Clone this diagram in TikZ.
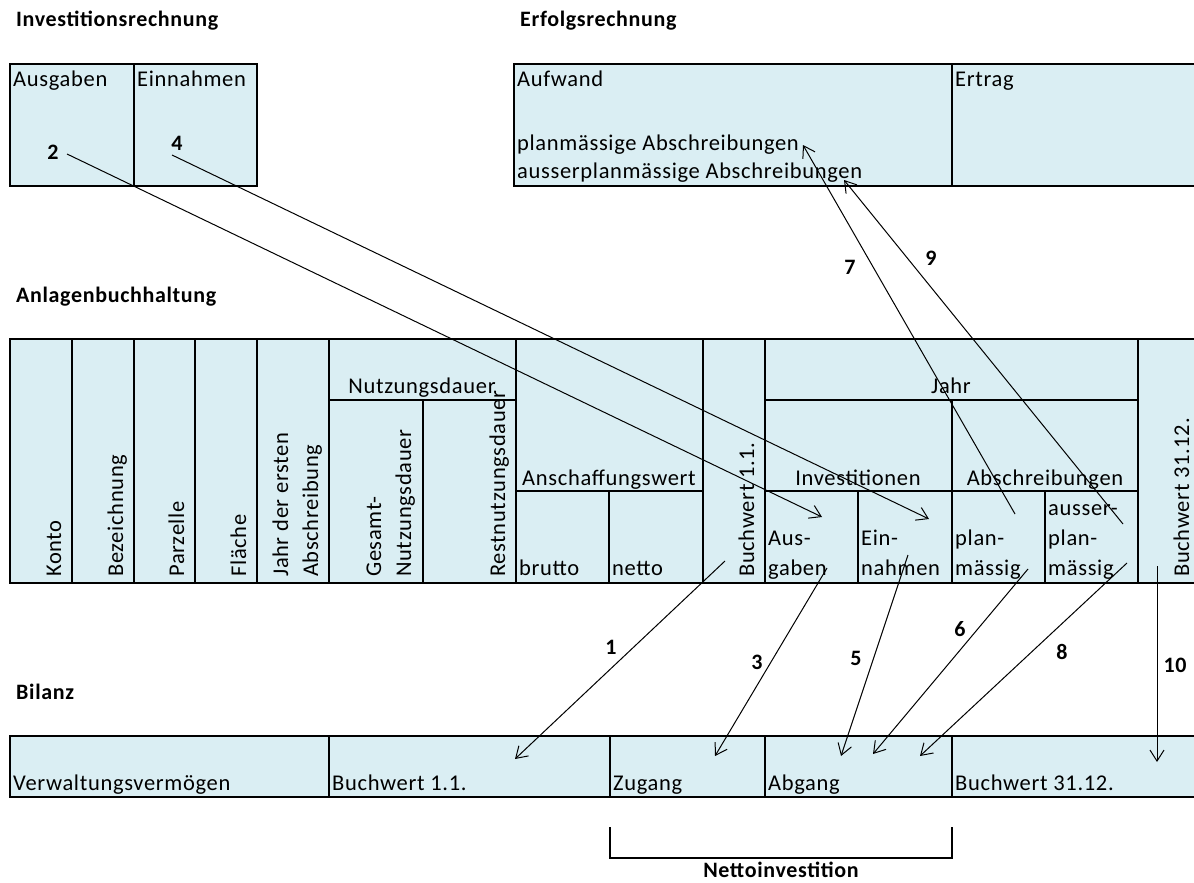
\documentclass[tikz,border=0pt]{standalone}
\usepackage{fontspec}
\setmainfont{Carlito}[LetterSpace=3]
\usetikzlibrary{arrows.meta}
\definecolor{cellblue}{RGB}{218,238,243}

\begin{document}
\begin{tikzpicture}[x=1pt,y=-1pt,
	every node/.style={font=\fontsize{22.5}{26}\selectfont,inner sep=0pt},
	frame/.style={line width=2.5pt},
	head/.style={font=\fontsize{22}{26}\selectfont\bfseries,anchor=base west},
	txt/.style={anchor=base west},
	vtxt/.style={anchor=base west,rotate=90},
	ctxt/.style={anchor=base},
	num/.style={font=\fontsize{22}{26}\selectfont\bfseries},
	arr/.style={line width=1pt,-{Straight Barb[length=11pt,width=14pt]}}]
	\useasboundingbox (0,0) rectangle (1194,883);

	\node[head] (tInv) at (16,27) {Investitionsrechnung};
	\node[head] (tErf) at (520,27) {Erfolgsrechnung};
	\node[head] (tAnl) at (16,302) {Anlagenbuchhaltung};
	\node[head] (tBil) at (16,699) {Bilanz};

	\fill[cellblue] (10,64) rectangle (257,186);
	\fill[cellblue] (514,64) rectangle (1200,186);
	\fill[cellblue] (10,339) rectangle (1200,583);
	\fill[cellblue] (10,736) rectangle (1200,797);

	\draw[frame] (10,64) rectangle (257,186);
	\draw[frame] (134,64) -- (134,186);
	\draw[frame] (1200,64) -- (514,64) -- (514,186) -- (1200,186);
	\draw[frame] (952,64) -- (952,186);

	\draw[frame] (1200,339) -- (10,339) -- (10,583) -- (1200,583);
	\foreach \x in {72,134,195,257,329,516,703,765,1138}
		\draw[frame] (\x,339) -- (\x,583);
	\draw[frame] (329,400) -- (516,400);
	\draw[frame] (423,400) -- (423,583);
	\draw[frame] (516,491) -- (703,491);
	\draw[frame] (609,491) -- (609,583);
	\draw[frame] (765,400) -- (1138,400);
	\draw[frame] (952,400) -- (952,583);
	\draw[frame] (765,491) -- (1138,491);
	\draw[frame] (858,491) -- (858,583);
	\draw[frame] (1045,491) -- (1045,583);

	\draw[frame] (1200,736) -- (10,736) -- (10,797) -- (1200,797);
	\foreach \x in {329,610,765,952}
		\draw[frame] (\x,736) -- (\x,797);

	\draw[frame] (610,827) -- (610,858) -- (952,858) -- (952,827);
	\node[num,anchor=base] (tNet) at (781,877) {Nettoinvestition};

	\node[txt] (cAusg) at (13,87) {Ausgaben};
	\node[txt] (cEinn) at (137,87) {Einnahmen};
	\node[txt] (cAufw) at (517,87) {Aufwand};
	\node[txt] (cPlan) at (517,150) {planmässige Abschreibungen};
	\node[txt] (cAuss) at (517,178) {ausserplanmässige Abschreibungen};
	\node[txt] (cErtr) at (955,87) {Ertrag};

	\node[vtxt] (hKonto) at (61,577) {Konto};
	\node[vtxt] (hBez) at (123,577) {Bezeichnung};
	\node[vtxt] (hParz) at (184,577) {Parzelle};
	\node[vtxt] (hFlae) at (246,577) {Fläche};
	\node[vtxt] (hJahrA) at (288,577) {Jahr der ersten};
	\node[vtxt] (hJahrB) at (318,577) {Abschreibung};
	\node[vtxt] (hGesA) at (381,577) {Gesamt-};
	\node[vtxt] (hGesB) at (411,577) {Nutzungsdauer};
	\node[vtxt] (hRest) at (505,577) {Restnutzungsdauer};
	\node[vtxt] (hBw1) at (754,577) {Buchwert 1.1.};
	\node[vtxt] (hBw2) at (1189,577) {Buchwert 31.12.};
	\node[ctxt] (hNutz) at (422,393) {Nutzungsdauer};
	\node[ctxt] (hAnsch) at (609,485) {Anschaffungswert};
	\node[ctxt] (hJahr) at (951,393) {Jahr};
	\node[ctxt] (hInv) at (858,485) {Investitionen};
	\node[ctxt] (hAbs) at (1045,485) {Abschreibungen};
	\node[txt] (hBrut) at (519,575) {brutto};
	\node[txt] (hNett) at (612,575) {netto};
	\node[txt] (hAusA) at (768,545) {Aus-};
	\node[txt] (hAusB) at (768,575) {gaben};
	\node[txt] (hEinA) at (861,545) {Ein-};
	\node[txt] (hEinB) at (861,575) {nahmen};
	\node[txt] (hPlA) at (955,545) {plan-};
	\node[txt] (hPlB) at (955,575) {mässig};
	\node[txt] (hApA) at (1048,515) {ausser-};
	\node[txt] (hApB) at (1048,545) {plan-};
	\node[txt] (hApC) at (1048,575) {mässig};

	\node[txt] (bVerw) at (13,790) {Verwaltungsvermögen};
	\node[txt] (bBw1) at (332,790) {Buchwert 1.1.};
	\node[txt] (bZug) at (613,790) {Zugang};
	\node[txt] (bAbg) at (768,790) {Abgang};
	\node[txt] (bBw2) at (955,790) {Buchwert 31.12.};

	\coordinate (p1) at (725,561); \coordinate (q1) at (515,759);
	\coordinate (p2) at (67,154); \coordinate (q2) at (822,517);
	\coordinate (p3) at (827,568); \coordinate (q3) at (715,756);
	\coordinate (p4) at (172,155); \coordinate (q4) at (929,519);
	\coordinate (p5) at (908,555); \coordinate (q5) at (841,756);
	\coordinate (p6) at (1028,569); \coordinate (q6) at (873,754);
	\coordinate (p7) at (1015,514); \coordinate (q7) at (803,145);
	\coordinate (p8) at (1127,563); \coordinate (q8) at (920,756);
	\coordinate (p9) at (1123,524); \coordinate (q9) at (844,180);
	\coordinate (p10) at (1157,566); \coordinate (q10) at (1157,762);
	\foreach \i in {1,...,10}
		\draw[arr] (p\i) -- (q\i);

	\node[num] (n1) at (611,647) {1};
	\node[num] (n2) at (53,152) {2};
	\node[num] (n3) at (757,662) {3};
	\node[num] (n4) at (177,143) {4};
	\node[num] (n5) at (856,658) {5};
	\node[num] (n6) at (960,629) {6};
	\node[num] (n7) at (850,267) {7};
	\node[num] (n8) at (1062,652) {8};
	\node[num] (n9) at (931,258) {9};
	\node[num] (n10) at (1175,665) {10};
\end{tikzpicture}
\end{document}
